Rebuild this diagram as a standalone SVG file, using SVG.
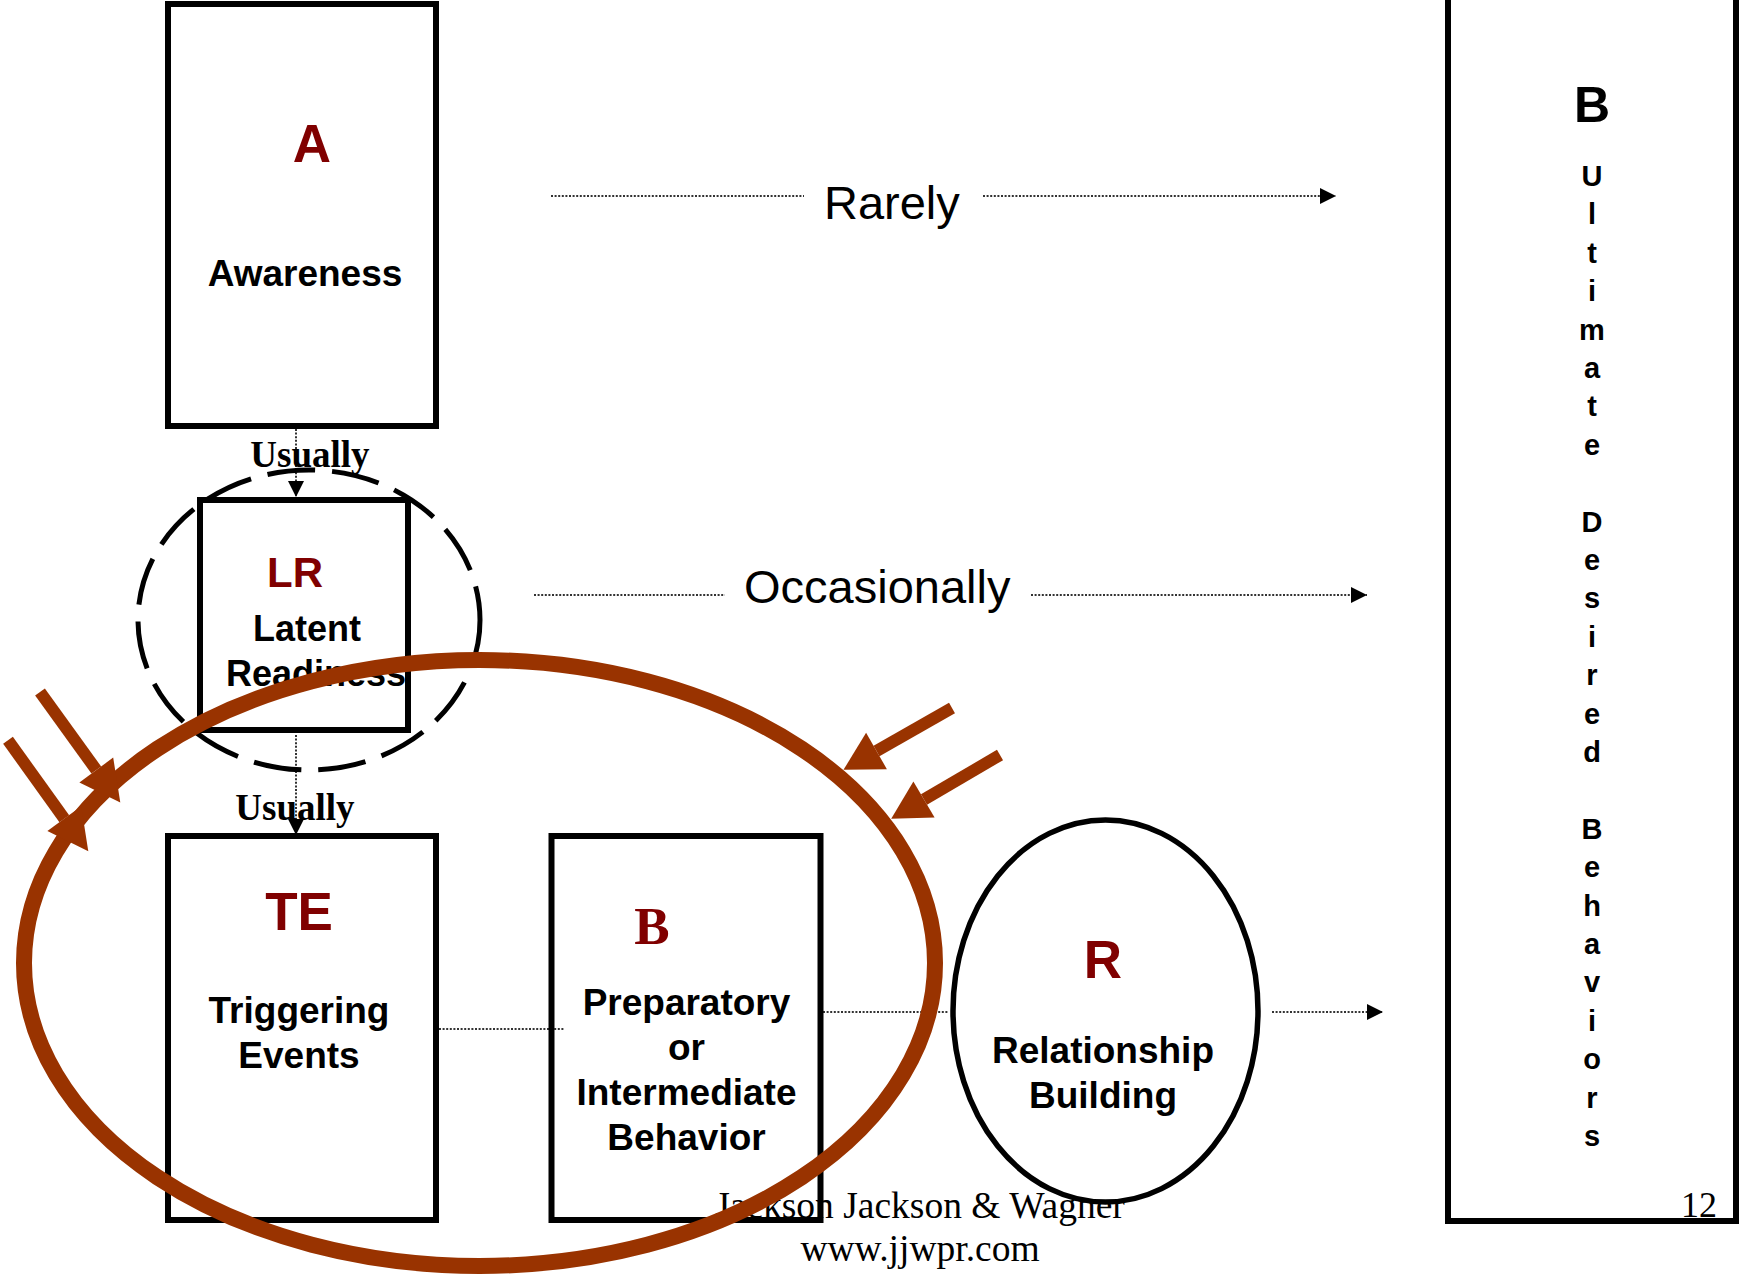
<svg xmlns="http://www.w3.org/2000/svg" width="1739" height="1274" viewBox="0 0 1739 1274">
<style>
.box{fill:none;stroke:#000;stroke-width:6}
.dot{fill:none;stroke:#333;stroke-width:2;stroke-dasharray:2 1.6}
.sans{font-family:"Liberation Sans",Arial,sans-serif}
.serif{font-family:"Liberation Serif","Times New Roman",serif}
.bold{font-weight:bold}
.red{fill:#800000}
.lbl{font-size:37px;font-weight:bold;fill:#000}
.brown{fill:none;stroke:#993300}
.bhead{fill:#993300}
</style>
<defs>
<marker id="ah" markerUnits="userSpaceOnUse" markerWidth="16" markerHeight="16" viewBox="0 0 15 15" refX="15" refY="7.5" orient="auto">
<path d="M0,0 L15,7.5 L0,15 z" fill="#000"/>
</marker>
</defs>
<rect width="1739" height="1274" fill="#fff"/>

<g id="footer">
<text class="serif" x="920" y="1218" font-size="37.5" text-anchor="middle" fill="#000">Jackson Jackson &amp; Wagner</text>
<text class="serif" x="920" y="1261" font-size="37.5" text-anchor="middle" fill="#000">www.jjwpr.com</text>
<text class="serif" x="1717" y="1217" font-size="36" text-anchor="end" fill="#000">12</text>
</g>

<g id="connectors">
<line class="dot" x1="551" y1="196" x2="804" y2="196"/>
<line class="dot" x1="983" y1="196" x2="1336" y2="196" marker-end="url(#ah)"/>
<text class="sans" x="824" y="219" font-size="47" fill="#000">Rarely</text>
<line class="dot" x1="534" y1="595" x2="725" y2="595"/>
<line class="dot" x1="1031" y1="595" x2="1367" y2="595" marker-end="url(#ah)"/>
<text class="sans" x="744" y="603" font-size="47" fill="#000">Occasionally</text>
<line class="dot" x1="296" y1="429" x2="296" y2="497" marker-end="url(#ah)"/>
<text class="serif bold" x="310" y="467" font-size="37" text-anchor="middle" fill="#000">Usually</text>
<line class="dot" x1="296" y1="735" x2="296" y2="835" marker-end="url(#ah)"/>
<text class="serif bold" x="295" y="820" font-size="37" text-anchor="middle" fill="#000">Usually</text>
<line class="dot" x1="439" y1="1029" x2="564" y2="1029"/>
<line class="dot" x1="823" y1="1012" x2="948" y2="1012"/>
<line class="dot" x1="1272" y1="1012" x2="1383" y2="1012" marker-end="url(#ah)"/>
</g>

<g id="nodeA">
<rect class="box" x="168" y="4" width="268" height="422"/>
<text class="sans bold red" x="312" y="162" font-size="53" text-anchor="middle">A</text>
<text class="sans lbl" x="305" y="286" text-anchor="middle">Awareness</text>
</g>

<g id="nodeLR">
<ellipse cx="309" cy="620" rx="171" ry="150" fill="none" stroke="#000" stroke-width="5" stroke-dasharray="48 17"/>
<rect class="box" x="200" y="500" width="208" height="230"/>
<text class="sans bold red" x="295" y="587" font-size="42" text-anchor="middle">LR</text>
<text class="sans" x="253" y="641" font-size="36" font-weight="bold">Latent</text>
<text class="sans" x="226" y="686" font-size="36" font-weight="bold">Readiness</text>
</g>

<g id="nodeTE">
<rect class="box" x="168" y="836" width="268" height="384"/>
<text class="sans bold red" x="299" y="930" font-size="53" text-anchor="middle">TE</text>
<text class="sans lbl" x="299" y="1023" text-anchor="middle">Triggering</text>
<text class="sans lbl" x="299" y="1068" text-anchor="middle">Events</text>
</g>

<g id="nodeB">
<rect class="box" x="551.5" y="836" width="269" height="384"/>
<text class="serif bold red" x="652" y="944" font-size="53" text-anchor="middle">B</text>
<text class="sans lbl" x="686.5" y="1015" text-anchor="middle">Preparatory</text>
<text class="sans lbl" x="686.5" y="1060" text-anchor="middle">or</text>
<text class="sans lbl" x="686.5" y="1105" text-anchor="middle">Intermediate</text>
<text class="sans lbl" x="686.5" y="1150" text-anchor="middle">Behavior</text>
</g>

<g id="nodeR">
<ellipse cx="1105.5" cy="1011" rx="152.5" ry="191" fill="#fff" stroke="#000" stroke-width="5.5"/>
<text class="sans bold red" x="1103" y="978" font-size="53" text-anchor="middle">R</text>
<text class="sans lbl" x="1103" y="1063" text-anchor="middle">Relationship</text>
<text class="sans lbl" x="1103" y="1108" text-anchor="middle">Building</text>
</g>

<g id="nodeUDB">
<rect class="box" x="1448" y="-10" width="288" height="1231"/>
<text class="sans bold" x="1592" y="122" font-size="50" text-anchor="middle" fill="#000">B</text>
<text class="sans bold" font-size="29" text-anchor="middle" fill="#000"><tspan x="1592" y="186">U</tspan><tspan x="1592" y="224.4">l</tspan><tspan x="1592" y="262.8">t</tspan><tspan x="1592" y="301.2">i</tspan><tspan x="1592" y="339.6">m</tspan><tspan x="1592" y="378">a</tspan><tspan x="1592" y="416.4">t</tspan><tspan x="1592" y="454.8">e</tspan><tspan x="1592" y="531.6">D</tspan><tspan x="1592" y="570">e</tspan><tspan x="1592" y="608.4">s</tspan><tspan x="1592" y="646.8">i</tspan><tspan x="1592" y="685.2">r</tspan><tspan x="1592" y="723.6">e</tspan><tspan x="1592" y="762">d</tspan><tspan x="1592" y="838.8">B</tspan><tspan x="1592" y="877.2">e</tspan><tspan x="1592" y="915.6">h</tspan><tspan x="1592" y="954">a</tspan><tspan x="1592" y="992.4">v</tspan><tspan x="1592" y="1030.8">i</tspan><tspan x="1592" y="1069.2">o</tspan><tspan x="1592" y="1107.6">r</tspan><tspan x="1592" y="1146">s</tspan></text>
</g>

<g id="focus">
<ellipse class="brown" cx="479.5" cy="963" rx="455.5" ry="303" stroke-width="16"/>
<line class="brown" x1="40" y1="692" x2="96.3" y2="770" stroke-width="12"/>
<polygon class="bhead" points="79.4,782.4 113.2,757.6 120.3,802.6"/>
<line class="brown" x1="8" y1="740.3" x2="64.3" y2="818.7" stroke-width="12"/>
<polygon class="bhead" points="47.4,831.1 81.2,806.3 88.3,851.3"/>
<line class="brown" x1="952" y1="708" x2="876.5" y2="751" stroke-width="12"/>
<polygon class="bhead" points="866.1,732.8 886.9,769.2 843.5,769.8"/>
<line class="brown" x1="1000" y1="755" x2="924" y2="799.5" stroke-width="12"/>
<polygon class="bhead" points="913.4,781.4 934.6,817.6 891.2,818.7"/>
</g>
</svg>
